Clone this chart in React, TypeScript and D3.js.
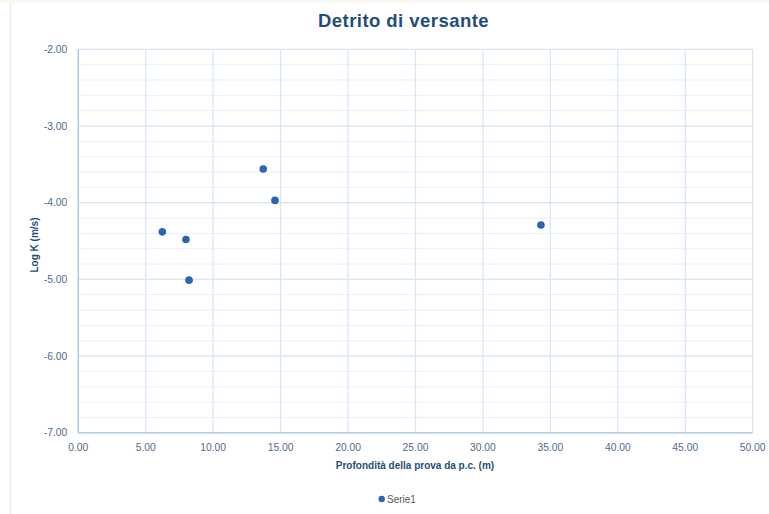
import React, { useEffect, useRef } from "react";
import * as d3 from "d3";

// Depth of each test below ground level (m)
const depths: number[] = [6.23, 7.98, 8.21, 13.71, 14.58, 34.3];
// Hydraulic conductivity, log10 K (m/s)
const logK: number[] = [-4.38, -4.48, -5.01, -3.56, -3.97, -4.29];

const xTicks: number[] = [0, 5, 10, 15, 20, 25, 30, 35, 40, 45, 50];
const yTicks: number[] = [-2, -3, -4, -5, -6, -7];
const yMinorTicks: number[] = d3.range(-7, -2.0001, 0.2);

const title = "Detrito di versante";
const xTitle = "Profondità della prova da p.c. (m)";
const yTitle = "Log K (m/s)";
const seriesName = "Serie1";

const W = 769;
const H = 514;
const margin = { left: 78.3, right: W - 752.7, top: 49.3, bottom: H - 432.8 };

const FONT = "'Liberation Sans', Arial, sans-serif";
const TEXT_BLUE = "#1f4e79";
const TICK_COLOR = "#4f6a8a";
const AXIS_COLOR = "#9dc3e6";
const GRID_MAJOR = "#d6e6f5";
const GRID_MINOR = "#e8f0f9";
const POINT_COLOR = "#2b65b0";

export default function App() {
  const ref = useRef<SVGSVGElement | null>(null);

  useEffect(() => {
    const svg = d3.select(ref.current);
    svg.selectAll("*").remove();

    const x = d3.scaleLinear().domain([0, 50]).range([margin.left, W - margin.right]);
    const y = d3.scaleLinear().domain([-7, -2]).range([H - margin.bottom, margin.top]);

    // background and faint frame
    svg.append("rect").attr("width", W).attr("height", H).attr("fill", "#ffffff");
    svg.append("rect").attr("x", 0).attr("y", 0).attr("width", W).attr("height", 3).attr("fill", "#fbf8f1");
    svg.append("line").attr("x1", 10.5).attr("x2", 10.5).attr("y1", 3).attr("y2", H)
      .attr("stroke", "#e3ecf6").attr("stroke-width", 1.5);

    const g = svg.append("g");

    // minor horizontal grid
    g.selectAll("line.minor")
      .data(yMinorTicks)
      .enter()
      .append("line")
      .attr("x1", x(0)).attr("x2", x(50))
      .attr("y1", (d) => y(d)).attr("y2", (d) => y(d))
      .attr("stroke", GRID_MINOR).attr("stroke-width", 1);

    // major horizontal grid
    g.selectAll("line.hmajor")
      .data(yTicks.filter((d) => d !== -7))
      .enter()
      .append("line")
      .attr("x1", x(0)).attr("x2", x(50))
      .attr("y1", (d) => y(d)).attr("y2", (d) => y(d))
      .attr("stroke", GRID_MAJOR).attr("stroke-width", 1.2);

    // vertical grid
    g.selectAll("line.vmajor")
      .data(xTicks.filter((d) => d !== 0))
      .enter()
      .append("line")
      .attr("x1", (d) => x(d)).attr("x2", (d) => x(d))
      .attr("y1", y(-2)).attr("y2", y(-7))
      .attr("stroke", GRID_MAJOR).attr("stroke-width", 1.2);

    // axes lines
    g.append("line").attr("x1", x(0)).attr("x2", x(0)).attr("y1", y(-2)).attr("y2", y(-7))
      .attr("stroke", AXIS_COLOR).attr("stroke-width", 1.3);
    g.append("line").attr("x1", x(0)).attr("x2", x(50)).attr("y1", y(-7)).attr("y2", y(-7))
      .attr("stroke", AXIS_COLOR).attr("stroke-width", 1.3);

    // tick labels
    g.selectAll("text.yt")
      .data(yTicks)
      .enter()
      .append("text")
      .attr("x", x(0) - 11)
      .attr("y", (d) => y(d) + 3.5)
      .attr("text-anchor", "end")
      .attr("font-family", FONT)
      .attr("font-size", 10.3)
      .attr("fill", TICK_COLOR)
      .text((d) => d3.format(".2f")(d).replace("−", "-"));

    g.selectAll("text.xt")
      .data(xTicks)
      .enter()
      .append("text")
      .attr("x", (d) => x(d))
      .attr("y", y(-7) + 18)
      .attr("text-anchor", "middle")
      .attr("font-family", FONT)
      .attr("font-size", 10.3)
      .attr("fill", TICK_COLOR)
      .text((d) => d3.format(".2f")(d));

    // axis titles
    g.append("text")
      .attr("x", 415)
      .attr("y", 469)
      .attr("text-anchor", "middle")
      .attr("font-family", FONT)
      .attr("font-weight", "bold")
      .attr("font-size", 10)
      .attr("fill", TEXT_BLUE)
      .text(xTitle);

    g.append("text")
      .attr("transform", `translate(38, ${245}) rotate(-90)`)
      .attr("text-anchor", "middle")
      .attr("font-family", FONT)
      .attr("font-weight", "bold")
      .attr("font-size", 10)
      .attr("fill", TEXT_BLUE)
      .text(yTitle);

    // chart title
    svg.append("text")
      .attr("x", 403.5)
      .attr("y", 27)
      .attr("text-anchor", "middle")
      .attr("font-family", FONT)
      .attr("font-weight", "bold")
      .attr("font-size", 18.5)
      .attr("letter-spacing", 0.45)
      .attr("fill", TEXT_BLUE)
      .text(title);

    // points
    const pts = depths.map((d, i) => ({ x: d, y: logK[i] }));
    g.selectAll("circle.pt")
      .data(pts)
      .enter()
      .append("circle")
      .attr("cx", (d) => x(d.x))
      .attr("cy", (d) => y(d.y))
      .attr("r", 3.8)
      .attr("fill", POINT_COLOR);

    // legend
    svg.append("circle").attr("cx", 381.7).attr("cy", 499).attr("r", 3.2).attr("fill", POINT_COLOR);
    svg.append("text")
      .attr("x", 387)
      .attr("y", 502.5)
      .attr("font-family", FONT)
      .attr("font-size", 10)
      .attr("fill", "#595959")
      .text(seriesName);
  }, []);

  return (
    <svg
      ref={ref}
      width={W}
      height={H}
      style={{ position: "absolute", left: 0, top: 0, display: "block" }}
    />
  );
}
